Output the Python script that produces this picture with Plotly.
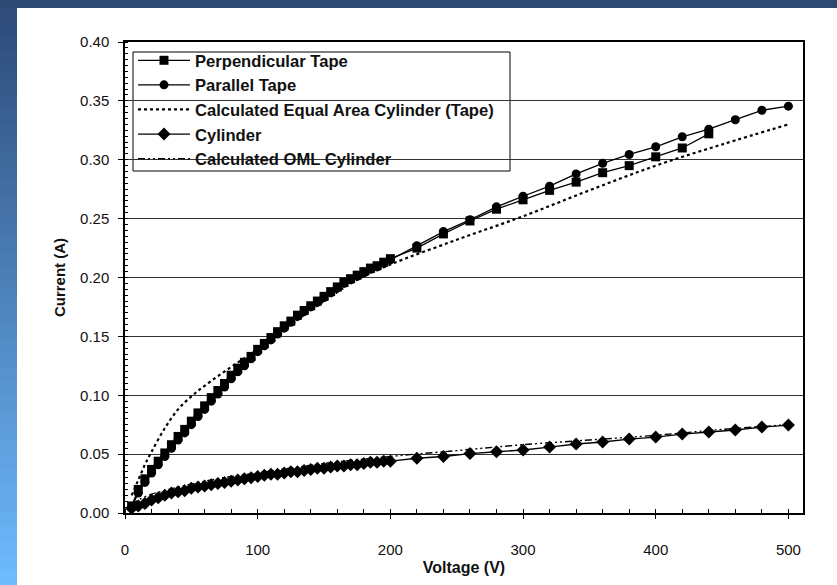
import plotly.graph_objects as go

# ---------------- data ----------------
v_dense = [5, 10, 15, 20, 25, 30, 35, 40, 45, 50, 55, 60, 65, 70, 75, 80, 85, 90, 95, 100,
           105, 110, 115, 120, 125, 130, 135, 140, 145, 150, 155, 160, 165, 170, 175, 180,
           185, 190, 195, 200]

perp_v = v_dense + [220, 240, 260, 280, 300, 320, 340, 360, 380, 400, 420, 440]
perp_i = [0.006, 0.020, 0.029, 0.037, 0.044, 0.051, 0.058, 0.065, 0.071, 0.078, 0.085, 0.091,
          0.098, 0.104, 0.110, 0.117, 0.123, 0.128, 0.133, 0.139, 0.144, 0.149, 0.154, 0.159,
          0.163, 0.168, 0.172, 0.176, 0.180, 0.184, 0.188, 0.192, 0.196, 0.199, 0.202, 0.205,
          0.208, 0.210, 0.213, 0.216,
          0.225, 0.237, 0.248, 0.258, 0.266, 0.274, 0.281, 0.289, 0.295, 0.3025, 0.310, 0.322]

par_v = v_dense + [220, 240, 260, 280, 300, 320, 340, 360, 380, 400, 420, 440, 460, 480, 500]
par_i = [0.005, 0.017, 0.026, 0.034, 0.041, 0.048, 0.055, 0.062, 0.068, 0.075, 0.082, 0.088,
         0.095, 0.101, 0.107, 0.114, 0.120, 0.125, 0.131, 0.137, 0.142, 0.147, 0.152, 0.157,
         0.162, 0.167, 0.171, 0.175, 0.179, 0.183, 0.187, 0.191, 0.195, 0.198, 0.201, 0.204,
         0.207, 0.209, 0.212, 0.215,
         0.227, 0.239, 0.249, 0.260, 0.269, 0.2776, 0.288, 0.297, 0.3045, 0.311, 0.3195, 0.326,
         0.334, 0.342, 0.3455]

eqa_v = [5, 10, 15, 20, 30, 40, 50, 60, 80, 100, 125, 150, 175, 200, 250, 300, 350, 400, 450, 500]
eqa_i = [0.015, 0.028, 0.041, 0.052, 0.072, 0.088, 0.099, 0.108, 0.124, 0.139, 0.160, 0.180,
         0.198, 0.211, 0.232, 0.252, 0.274, 0.295, 0.313, 0.330]

cyl_v = v_dense + [220, 240, 260, 280, 300, 320, 340, 360, 380, 400, 420, 440, 460, 480, 500]
cyl_i = [0.004, 0.006, 0.008, 0.011, 0.013, 0.015, 0.017, 0.018, 0.019, 0.021, 0.022, 0.023,
         0.024, 0.025, 0.026, 0.027, 0.028, 0.029, 0.030, 0.031, 0.032, 0.033, 0.033, 0.034,
         0.035, 0.035, 0.036, 0.037, 0.038, 0.038, 0.039, 0.040, 0.040, 0.041, 0.041, 0.042,
         0.043, 0.043, 0.044, 0.044,
         0.0465, 0.048, 0.0505, 0.052, 0.0535, 0.056, 0.0586, 0.0603, 0.0628, 0.0645, 0.067,
         0.0688, 0.0705, 0.073, 0.0747]

oml_v = [5, 10, 20, 30, 40, 60, 80, 100, 150, 200, 250, 300, 350, 400, 450, 500]
oml_i = [0.007, 0.011, 0.016, 0.019, 0.022, 0.027, 0.031, 0.034, 0.042, 0.048, 0.053, 0.058,
         0.062, 0.066, 0.071, 0.075]

names = ["Perpendicular Tape", "Parallel Tape", "Calculated Equal Area Cylinder (Tape)",
         "Cylinder", "Calculated OML Cylinder"]

x_ticks = [0, 100, 200, 300, 400, 500]
y_ticks = [0.00, 0.05, 0.10, 0.15, 0.20, 0.25, 0.30, 0.35, 0.40]

# ---------------- figure ----------------
FONT = "Liberation Sans, Arial, Helvetica, sans-serif"
DASHDOT = "7px,3px,2px,3px,2px,3px"
fig = go.Figure()

fig.add_trace(go.Scatter(x=perp_v, y=perp_i, name=names[0], mode="lines+markers",
                         line=dict(color="black", width=1.3),
                         marker=dict(symbol="square", size=9, color="black")))
fig.add_trace(go.Scatter(x=par_v, y=par_i, name=names[1], mode="lines+markers",
                         line=dict(color="black", width=1.3),
                         marker=dict(symbol="circle", size=9, color="black")))
fig.add_trace(go.Scatter(x=eqa_v, y=eqa_i, name=names[2], mode="lines",
                         line=dict(color="black", width=2.2, dash="dot", shape="spline")))
fig.add_trace(go.Scatter(x=cyl_v, y=cyl_i, name=names[3], mode="lines+markers",
                         line=dict(color="black", width=1.3),
                         marker=dict(symbol="diamond", size=10, color="black")))
fig.add_trace(go.Scatter(x=oml_v, y=oml_i, name=names[4], mode="lines",
                         line=dict(color="black", width=1.4, dash=DASHDOT, shape="spline")))

# slide background bands and legend frame (decoration)
pw, ph = 678.0, 471.0
L, T = 125.0, 42.0


def px_x(p):
    return (p - L) / pw


def px_y(p):
    return 1 - (p - T) / ph


shapes = []
n = 40
c0 = (0x2f, 0x4c, 0x7a)
c1 = (0x6e, 0xba, 0xfd)
for k in range(n):
    f = k / (n - 1)
    col = "rgb(%d,%d,%d)" % tuple(int(c0[j] + (c1[j] - c0[j]) * f) for j in range(3))
    top = 8 + (585 - 8) * k / n - 1.0
    bot = 8 + (585 - 8) * (k + 1) / n + 1.0
    shapes.append(dict(type="rect", xref="paper", yref="paper", layer="below",
                       x0=px_x(-8), x1=px_x(17), y0=px_y(bot), y1=px_y(top),
                       fillcolor=col, line=dict(width=0)))
shapes.append(dict(type="rect", xref="paper", yref="paper", layer="below",
                   x0=px_x(-8), x1=px_x(845), y0=px_y(8), y1=px_y(-2),
                   fillcolor="#2d4a74", line=dict(width=0)))
# legend frame
shapes.append(dict(type="rect", xref="paper", yref="paper", layer="between",
                   x0=px_x(133), x1=px_x(510), y0=px_y(171), y1=px_y(52),
                   fillcolor="white", line=dict(color="black", width=1)))

fig.update_layout(
    width=837, height=585,
    margin=dict(l=125, r=34, t=42, b=72),
    paper_bgcolor="white", plot_bgcolor="white",
    font=dict(family=FONT, color="#111111", size=14),
    shapes=shapes,
    showlegend=True,
    legend=dict(x=px_x(133), y=px_y(43), xanchor="left", yanchor="top",
                bgcolor="rgba(0,0,0,0)", borderwidth=0,
                font=dict(family="Liberation Sans, Arial", size=16.6, color="#111111",
                          weight="bold"),
                itemwidth=52, traceorder="normal"),
    xaxis=dict(range=[0, 511], tickvals=x_ticks, ticktext=[str(t) for t in x_ticks],
               showgrid=False, zeroline=False,
               showline=True, linecolor="black", linewidth=1.5, mirror=True,
               ticks="outside", ticklen=4, tickcolor="black",
               tickfont=dict(size=15), ticklabelstandoff=18,
               minor=dict(dtick=20, ticks="inside", ticklen=4, tickcolor="black"),
               title=dict(text="Voltage (V)", font=dict(size=16, weight="bold"), standoff=5)),
    yaxis=dict(range=[0, 0.40], tickvals=y_ticks, ticktext=["%.2f" % t for t in y_ticks],
               showgrid=True, gridcolor="#333333", gridwidth=1, zeroline=False,
               showline=True, linecolor="black", linewidth=1.5, mirror=True,
               ticks="outside", ticklen=5, tickcolor="black",
               tickfont=dict(size=15), ticklabelstandoff=6,
               minor=dict(dtick=0.005, ticks="inside", ticklen=3, tickcolor="black",
                          showgrid=False),
               title=dict(text="Current (A)", font=dict(size=15, weight="bold"), standoff=11)),
)

fig.write_html("out.html")
